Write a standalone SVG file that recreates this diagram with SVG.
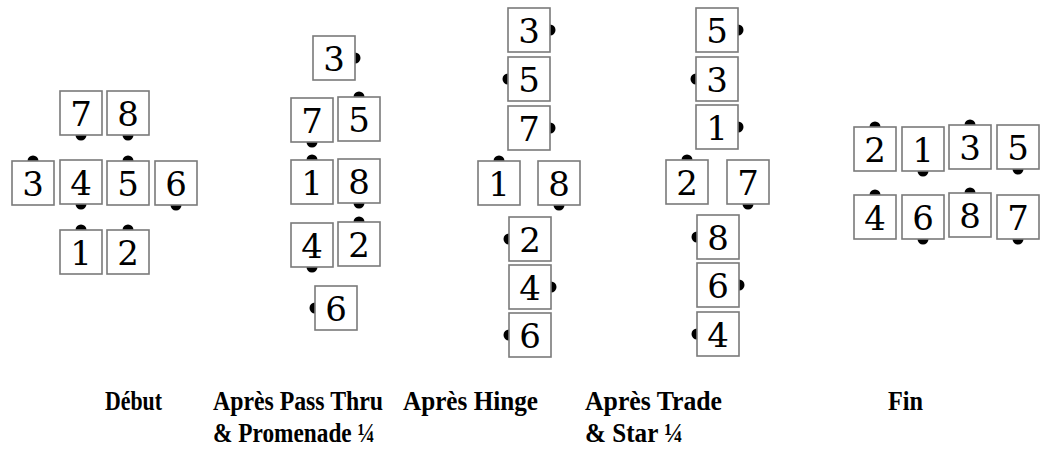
<svg xmlns="http://www.w3.org/2000/svg" width="1040" height="450" viewBox="0 0 1040 450">
<style>
.b{fill:#fff;stroke:#7a7a7a;stroke-width:1.6}
.d{fill:#000}
.n{font-family:"DejaVu Serif","Liberation Serif",serif;font-size:34px;text-anchor:middle;fill:#000}
.l{font-family:"Liberation Serif","Times New Roman",serif;font-size:28px;font-weight:bold;fill:#000}
</style>
<defs>
<g id="box"><rect class="b" x="0" y="0" width="42" height="44"/></g>
</defs>
<rect width="1040" height="450" fill="#fff"/>
<g id="connectors"/>
<!-- Début -->
<g id="debut">
<g id="d7" transform="translate(60,91)"><circle class="d" cx="21" cy="44" r="5.5"/><use href="#box"/><text class="n" x="21" y="35">7</text></g>
<g id="d8" transform="translate(107,91)"><circle class="d" cx="21" cy="44" r="5.5"/><use href="#box"/><text class="n" x="21" y="35">8</text></g>
<g id="d3" transform="translate(12,161)"><circle class="d" cx="21" cy="0" r="5.5"/><use href="#box"/><text class="n" x="21" y="35">3</text></g>
<g id="d4" transform="translate(60,160)"><circle class="d" cx="21" cy="44" r="5.5"/><use href="#box"/><text class="n" x="21" y="35">4</text></g>
<g id="d5" transform="translate(107,161)"><circle class="d" cx="21" cy="0" r="5.5"/><use href="#box"/><text class="n" x="21" y="35">5</text></g>
<g id="d6" transform="translate(155,161)"><circle class="d" cx="21" cy="44" r="5.5"/><use href="#box"/><text class="n" x="21" y="35">6</text></g>
<g id="d1" transform="translate(60,230)"><circle class="d" cx="21" cy="0" r="5.5"/><use href="#box"/><text class="n" x="21" y="35">1</text></g>
<g id="d2" transform="translate(107,230)"><circle class="d" cx="21" cy="0" r="5.5"/><use href="#box"/><text class="n" x="21" y="35">2</text></g>
</g>
<!-- Après Pass Thru -->
<g id="passthru">
<g id="p3" transform="translate(313,36)"><circle class="d" cx="42" cy="22" r="5.5"/><use href="#box"/><text class="n" x="21" y="35">3</text></g>
<g id="p7" transform="translate(291,98)"><circle class="d" cx="21" cy="44" r="5.5"/><use href="#box"/><text class="n" x="21" y="35">7</text></g>
<g id="p5" transform="translate(338,97)"><circle class="d" cx="21" cy="0" r="5.5"/><use href="#box"/><text class="n" x="21" y="35">5</text></g>
<g id="p1" transform="translate(291,160)"><circle class="d" cx="21" cy="0" r="5.5"/><use href="#box"/><text class="n" x="21" y="35">1</text></g>
<g id="p8" transform="translate(338,159)"><circle class="d" cx="21" cy="44" r="5.5"/><use href="#box"/><text class="n" x="21" y="35">8</text></g>
<g id="p4" transform="translate(291,223)"><circle class="d" cx="21" cy="44" r="5.5"/><use href="#box"/><text class="n" x="21" y="35">4</text></g>
<g id="p2" transform="translate(338,222)"><circle class="d" cx="21" cy="0" r="5.5"/><use href="#box"/><text class="n" x="21" y="35">2</text></g>
<g id="p6" transform="translate(315,286)"><circle class="d" cx="0" cy="22" r="5.5"/><use href="#box"/><text class="n" x="21" y="35">6</text></g>
</g>
<!-- Après Hinge -->
<g id="hinge">
<g id="h3" transform="translate(508,8)"><circle class="d" cx="42" cy="22" r="5.5"/><use href="#box"/><text class="n" x="21" y="35">3</text></g>
<g id="h5" transform="translate(508,57)"><circle class="d" cx="0" cy="22" r="5.5"/><use href="#box"/><text class="n" x="21" y="35">5</text></g>
<g id="h7" transform="translate(508,106)"><circle class="d" cx="42" cy="22" r="5.5"/><use href="#box"/><text class="n" x="21" y="35">7</text></g>
<g id="h1" transform="translate(478,161)"><circle class="d" cx="21" cy="0" r="5.5"/><use href="#box"/><text class="n" x="21" y="35">1</text></g>
<g id="h8" transform="translate(538,161)"><circle class="d" cx="21" cy="44" r="5.5"/><use href="#box"/><text class="n" x="21" y="35">8</text></g>
<g id="h2" transform="translate(509,217)"><circle class="d" cx="0" cy="22" r="5.5"/><use href="#box"/><text class="n" x="21" y="35">2</text></g>
<g id="h4" transform="translate(509,265)"><circle class="d" cx="42" cy="22" r="5.5"/><use href="#box"/><text class="n" x="21" y="35">4</text></g>
<g id="h6" transform="translate(509,313)"><circle class="d" cx="0" cy="22" r="5.5"/><use href="#box"/><text class="n" x="21" y="35">6</text></g>
</g>
<!-- Après Trade & Star -->
<g id="trade">
<g id="t5" transform="translate(696,8)"><circle class="d" cx="42" cy="22" r="5.5"/><use href="#box"/><text class="n" x="21" y="35">5</text></g>
<g id="t3" transform="translate(696,57)"><circle class="d" cx="0" cy="22" r="5.5"/><use href="#box"/><text class="n" x="21" y="35">3</text></g>
<g id="t1" transform="translate(696,105)"><circle class="d" cx="42" cy="22" r="5.5"/><use href="#box"/><text class="n" x="21" y="35">1</text></g>
<g id="t2" transform="translate(666,160)"><circle class="d" cx="21" cy="0" r="5.5"/><use href="#box"/><text class="n" x="21" y="35">2</text></g>
<g id="t7" transform="translate(727,160)"><circle class="d" cx="21" cy="44" r="5.5"/><use href="#box"/><text class="n" x="21" y="35">7</text></g>
<g id="t8" transform="translate(697,215)"><circle class="d" cx="0" cy="22" r="5.5"/><use href="#box"/><text class="n" x="21" y="35">8</text></g>
<g id="t6" transform="translate(697,263)"><circle class="d" cx="42" cy="22" r="5.5"/><use href="#box"/><text class="n" x="21" y="35">6</text></g>
<g id="t4" transform="translate(697,312)"><circle class="d" cx="0" cy="22" r="5.5"/><use href="#box"/><text class="n" x="21" y="35">4</text></g>
</g>
<!-- Fin -->
<g id="fin">
<g id="f2" transform="translate(854,127)"><circle class="d" cx="21" cy="0" r="5.5"/><use href="#box"/><text class="n" x="21" y="35">2</text></g>
<g id="f1" transform="translate(902,127)"><circle class="d" cx="21" cy="44" r="5.5"/><use href="#box"/><text class="n" x="21" y="35">1</text></g>
<g id="f3" transform="translate(949,125)"><circle class="d" cx="21" cy="0" r="5.5"/><use href="#box"/><text class="n" x="21" y="35">3</text></g>
<g id="f5" transform="translate(997,125)"><circle class="d" cx="21" cy="44" r="5.5"/><use href="#box"/><text class="n" x="21" y="35">5</text></g>
<g id="f4" transform="translate(854,195)"><circle class="d" cx="21" cy="0" r="5.5"/><use href="#box"/><text class="n" x="21" y="35">4</text></g>
<g id="f6" transform="translate(902,195)"><circle class="d" cx="21" cy="44" r="5.5"/><use href="#box"/><text class="n" x="21" y="35">6</text></g>
<g id="f8" transform="translate(949,193)"><circle class="d" cx="21" cy="0" r="5.5"/><use href="#box"/><text class="n" x="21" y="35">8</text></g>
<g id="f7" transform="translate(997,195)"><circle class="d" cx="21" cy="44" r="5.5"/><use href="#box"/><text class="n" x="21" y="35">7</text></g>
</g>
<!-- Labels -->
<g id="labels">
<text class="l" x="105" y="410" textLength="57" lengthAdjust="spacingAndGlyphs">Début</text>
<text class="l" x="213" y="410" textLength="170" lengthAdjust="spacingAndGlyphs">Après Pass Thru</text>
<text class="l" x="213" y="442" textLength="162" lengthAdjust="spacingAndGlyphs">&amp; Promenade ¼</text>
<text class="l" x="403" y="410" textLength="135" lengthAdjust="spacingAndGlyphs">Après Hinge</text>
<text class="l" x="585" y="410" textLength="137" lengthAdjust="spacingAndGlyphs">Après Trade</text>
<text class="l" x="585" y="442" textLength="98" lengthAdjust="spacingAndGlyphs">&amp; Star ¼</text>
<text class="l" x="888" y="410" textLength="35" lengthAdjust="spacingAndGlyphs">Fin</text>
</g>
</svg>
